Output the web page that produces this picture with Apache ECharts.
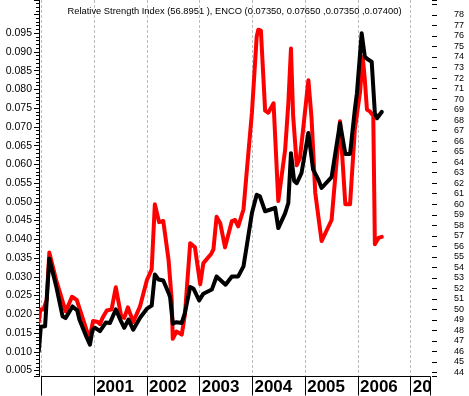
<!DOCTYPE html>
<html><head><meta charset="utf-8">
<script src="https://cdn.jsdelivr.net/npm/echarts@6/dist/echarts.min.js"></script>
<style>html,body{margin:0;padding:0;background:#fff}#c{width:469px;height:396px}</style>
</head><body><div id="c"></div>
<script>
const titleText = 'Relative Strength Index (56.8951 ), ENCO (0.07350, 0.07650 ,0.07350 ,0.07400)';

// ENCO price (left axis), time in decimal years
const priceDates = [1999.95,1999.99,2000.07,2000.09,2000.15,2000.28,2000.40,2000.46,2000.59,2000.68,2000.72,2000.85,2000.92,2000.97,
  2001.02,2001.11,2001.22,2001.30,2001.41,2001.51,2001.57,2001.65,2001.74,2001.87,
  2002.00,2002.09,2002.15,2002.22,2002.31,2002.41,2002.44,2002.49,2002.56,2002.66,2002.72,2002.82,2002.88,2002.99,
  2003.07,2003.23,2003.26,2003.32,2003.49,2003.61,2003.73,2003.83,2003.89,2003.99,
  2004.08,2004.14,2004.24,2004.33,2004.43,2004.49,2004.62,2004.68,2004.73,2004.79,2004.84,2004.93,
  2005.06,2005.15,2005.25,2005.31,2005.50,2005.66,2005.76,2005.85,2005.94,2005.98,
  2006.07,2006.13,2006.20,2006.26,2006.32,2006.36,2006.45];
const priceValues = [0.0101,0.0167,0.0168,0.0167,0.0349,0.0275,0.0195,0.0190,0.0221,0.0210,0.0186,0.0141,0.0119,0.0159,
  0.0164,0.0155,0.0178,0.0177,0.0213,0.0181,0.0164,0.0186,0.0159,0.0191,
  0.0215,0.0223,0.0306,0.0293,0.0290,0.0257,0.0245,0.0175,0.0179,0.0177,0.0204,0.0273,0.0269,0.0237,
  0.0255,0.0266,0.0270,0.0301,0.0279,0.0301,0.0301,0.0328,0.0381,0.0470,
  0.0519,0.0515,0.0475,0.0479,0.0484,0.0430,0.0470,0.0497,0.0630,0.0556,0.0550,0.0577,
  0.0684,0.0586,0.0559,0.0537,0.0566,0.0710,0.0628,0.0628,0.0746,0.0790,
  0.0950,0.0887,0.0879,0.0874,0.0737,0.0723,0.0740];

// Relative Strength Index (right axis)
const rsiDates = [1999.95,1999.98,2000.04,2000.10,2000.15,2000.28,2000.46,2000.58,2000.67,2000.91,2000.98,
  2001.07,2001.11,2001.16,2001.24,2001.33,2001.41,2001.51,2001.57,2001.64,2001.74,2001.87,
  2002.00,2002.09,2002.15,2002.23,2002.31,2002.34,2002.41,2002.47,2002.49,2002.56,2002.66,2002.72,2002.82,2002.91,
  2003.01,2003.07,2003.22,2003.26,2003.32,2003.39,2003.48,2003.61,2003.67,2003.73,2003.83,2003.89,2003.99,
  2004.08,2004.11,2004.16,2004.24,2004.30,2004.40,2004.49,2004.62,2004.68,2004.73,2004.77,2004.84,2004.90,2004.96,
  2005.06,2005.12,2005.19,2005.31,2005.50,2005.66,2005.76,2005.85,2005.94,
  2006.04,2006.09,2006.13,2006.17,2006.23,2006.29,2006.32,2006.39,2006.45];
const rsiValues = [48.8,50.0,50.0,50.9,55.4,52.8,49.8,51.2,50.9,47.2,48.9,
  48.8,48.6,49.2,49.9,50.0,52.1,49.4,49.2,50.2,48.8,50.3,
  52.8,53.8,60.0,58.3,58.4,58.3,54.7,50.9,47.2,47.9,47.6,49.5,56.3,55.9,
  52.4,54.4,55.3,55.7,58.8,58.2,55.9,58.4,58.5,57.9,59.5,63.0,68.7,
  75.9,76.6,76.5,68.9,68.7,69.6,60.3,65.2,69.6,74.8,68.5,63.7,64.4,67.1,
  71.8,68.2,61.1,56.5,58.5,67.9,60.0,60.0,67.1,
  70.7,74.0,71.8,69.0,68.8,68.4,56.2,56.8,56.8951];

const yearLabels = {2001:'2001',2002:'2002',2003:'2003',2004:'2004',2005:'2005',2006:'2006',2007:'20'};

const pricePairs = priceDates.map((d,i)=>[d, priceValues[i]]);
const rsiPairs = rsiDates.map((d,i)=>[d, rsiValues[i]]);

const chart = echarts.init(document.getElementById('c'));
chart.setOption({
  animation: false,
  backgroundColor: '#fff',
  title: {
    text: titleText, left: 'center', top: 2,
    textStyle: {fontFamily: 'Liberation Sans, Arial', fontSize: 9.35, fontWeight: 'normal', color: '#000'}
  },
  grid: {left: 41.4, right: 39, top: 0, bottom: 19, containLabel: false},
  xAxis: {
    type: 'value', min: 2000, max: 2007.365, splitNumber: 7, minInterval: 1, maxInterval: 1,
    axisLine: {show: true, onZero: false, lineStyle: {color: '#000', width: 1}},
    axisTick: {show: true, inside: false, length: 19, lineStyle: {color: '#000', width: 1}},
    axisLabel: {
      show: true, margin: 11, align: 'left', verticalAlign: 'middle', padding: [0,0,0,2],
      fontFamily: 'Liberation Sans, Arial', fontWeight: 'bold', fontSize: 17, color: '#000',
      formatter: v => yearLabels[Math.round(v)] && Math.abs(v - Math.round(v)) < 1e-6 ? yearLabels[Math.round(v)] : ''
    },
    splitLine: {show: true, showMinLine: true, showMaxLine: false, lineStyle: {color: '#bdbdbd', type: [3,2], width: 1}}
  },
  yAxis: [
    {
      type: 'value', position: 'left', offset: 2.4, min: 0.0034, max: 0.10387, splitNumber: 20,
      minInterval: 0.005, maxInterval: 0.005,
      axisLine: {show: true, lineStyle: {color: '#000', width: 1}},
      axisTick: {show: true, length: 5, lineStyle: {color: '#000'}},
      minorTick: {show: true, splitNumber: 5, length: 3, lineStyle: {color: '#000'}},
      splitLine: {show: false},
      axisLabel: {
        margin: 7, fontFamily: 'Liberation Sans, Arial', fontSize: 10.5, color: '#000',
        formatter: v => (v > 0.0045 && v < 0.0975) ? v.toFixed(3) : ''
      }
    },
    {
      type: 'value', position: 'right', offset: 2, min: 43.62, max: 79.42, splitNumber: 36,
      minInterval: 1, maxInterval: 1,
      axisLine: {show: false},
      axisTick: {show: true, length: 5, lineStyle: {color: '#000'}},
      splitLine: {show: false},
      axisLabel: {
        margin: 22, fontFamily: 'Liberation Sans, Arial', fontSize: 9, color: '#000',
        formatter: v => (Math.abs(v - Math.round(v)) < 1e-6 && v >= 44 && v <= 78) ? String(Math.round(v)) : ''
      }
    }
  ],
  series: [
    {
      name: 'RSI', type: 'line', yAxisIndex: 1, data: rsiPairs, showSymbol: false, symbol: 'none',
      clip: false, lineStyle: {color: '#ff0000', width: 4, join: 'round', cap: 'round'}, z: 2
    },
    {
      name: 'ENCO', type: 'line', yAxisIndex: 0, data: pricePairs, showSymbol: false, symbol: 'none',
      clip: false, lineStyle: {color: '#000000', width: 4, join: 'round', cap: 'round'}, z: 3
    }
  ]
});
</script></body></html>
